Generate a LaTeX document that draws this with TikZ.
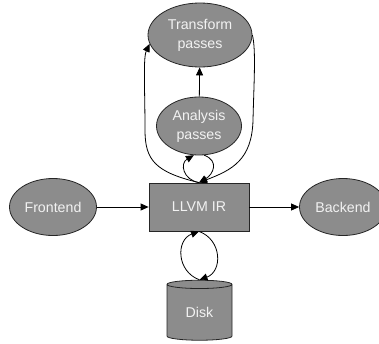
\documentclass[tikz,border=0pt]{standalone}
\usepackage{fontspec}
\setmainfont{Liberation Sans}
\usetikzlibrary{shapes.geometric,arrows.meta}

\definecolor{boxgray}{RGB}{140,140,140}
\definecolor{boxtext}{RGB}{242,242,242}

\begin{document}
\begin{tikzpicture}[x=1pt,y=-1pt]

\tikzstyle{stage} = [ellipse, draw=black!85, fill=boxgray, text=boxtext, align=center, inner sep=0pt, line width=0.8pt, font=\fontsize{14.2}{19}\selectfont]
\tikzstyle{irbox} = [rectangle, draw=black!85, fill=boxgray, text=boxtext, inner sep=0pt, line width=0.8pt, font=\fontsize{14.2}{19}\selectfont]
\tikzstyle{arrow} = [line width=0.8pt,-{Triangle[length=8pt,width=7pt]}]

\useasboundingbox (0,0) rectangle (379,343);

%% ------------------
%% -- PIPELINE --
%% ------------------

% IR in the middle
\node (llvm) [irbox, minimum width=100, minimum height=48] at (199,207) {LLVM IR};
\node (frontend) [stage, minimum width=87, minimum height=57] at (53,207) {Frontend};
\node (backend) [stage, minimum width=87, minimum height=57] at (343,207) {Backend};

\draw [arrow] (frontend) -- (llvm);
\draw [arrow] (llvm) -- (backend);

%% ------------------
%% -- PASSES --
%% ------------------

\node (transform) [stage, minimum width=104, minimum height=64] at (200,35) {Transform\\passes};
\node (analysis) [stage, minimum width=85, minimum height=58] at (199,126) {Analysis\\passes};

\draw [arrow] (analysis) -- (transform);

% small loop IR <-> analysis
\draw [arrow] (llvm.north) to[out=170,in=-150,looseness=1.5] (analysis.-100);
\draw [arrow] (analysis.-80) to[out=-20,in=30,looseness=1.5] (llvm.north);

% big loop IR <-> transform
\draw [arrow] (llvm.north) .. controls (155,172) and (145,160) .. (145,130) .. controls (145,90) and (143,58) .. (transform.190);
\draw [arrow] (transform.east) .. controls (256,50) and (254,80) .. (253,120) .. controls (252,160) and (232,170) .. (llvm.north);

%% ------------------
%% -- STORAGE --
%% ------------------

\node (disk) [cylinder, shape border rotate=90, aspect=0.3, draw=black!85, fill=boxgray, text=boxtext, line width=0.8pt, inner sep=0pt, minimum width=65, minimum height=60, font=\fontsize{14.2}{19}\selectfont] at (199.5,312.5) {Disk};

\draw [arrow] (disk.north) to[out=160,in=-160,looseness=1.3] (llvm.south);
\draw [arrow] (llvm.south) to[out=-20,in=20,looseness=1.3] (disk.north);

\end{tikzpicture}
\end{document}
